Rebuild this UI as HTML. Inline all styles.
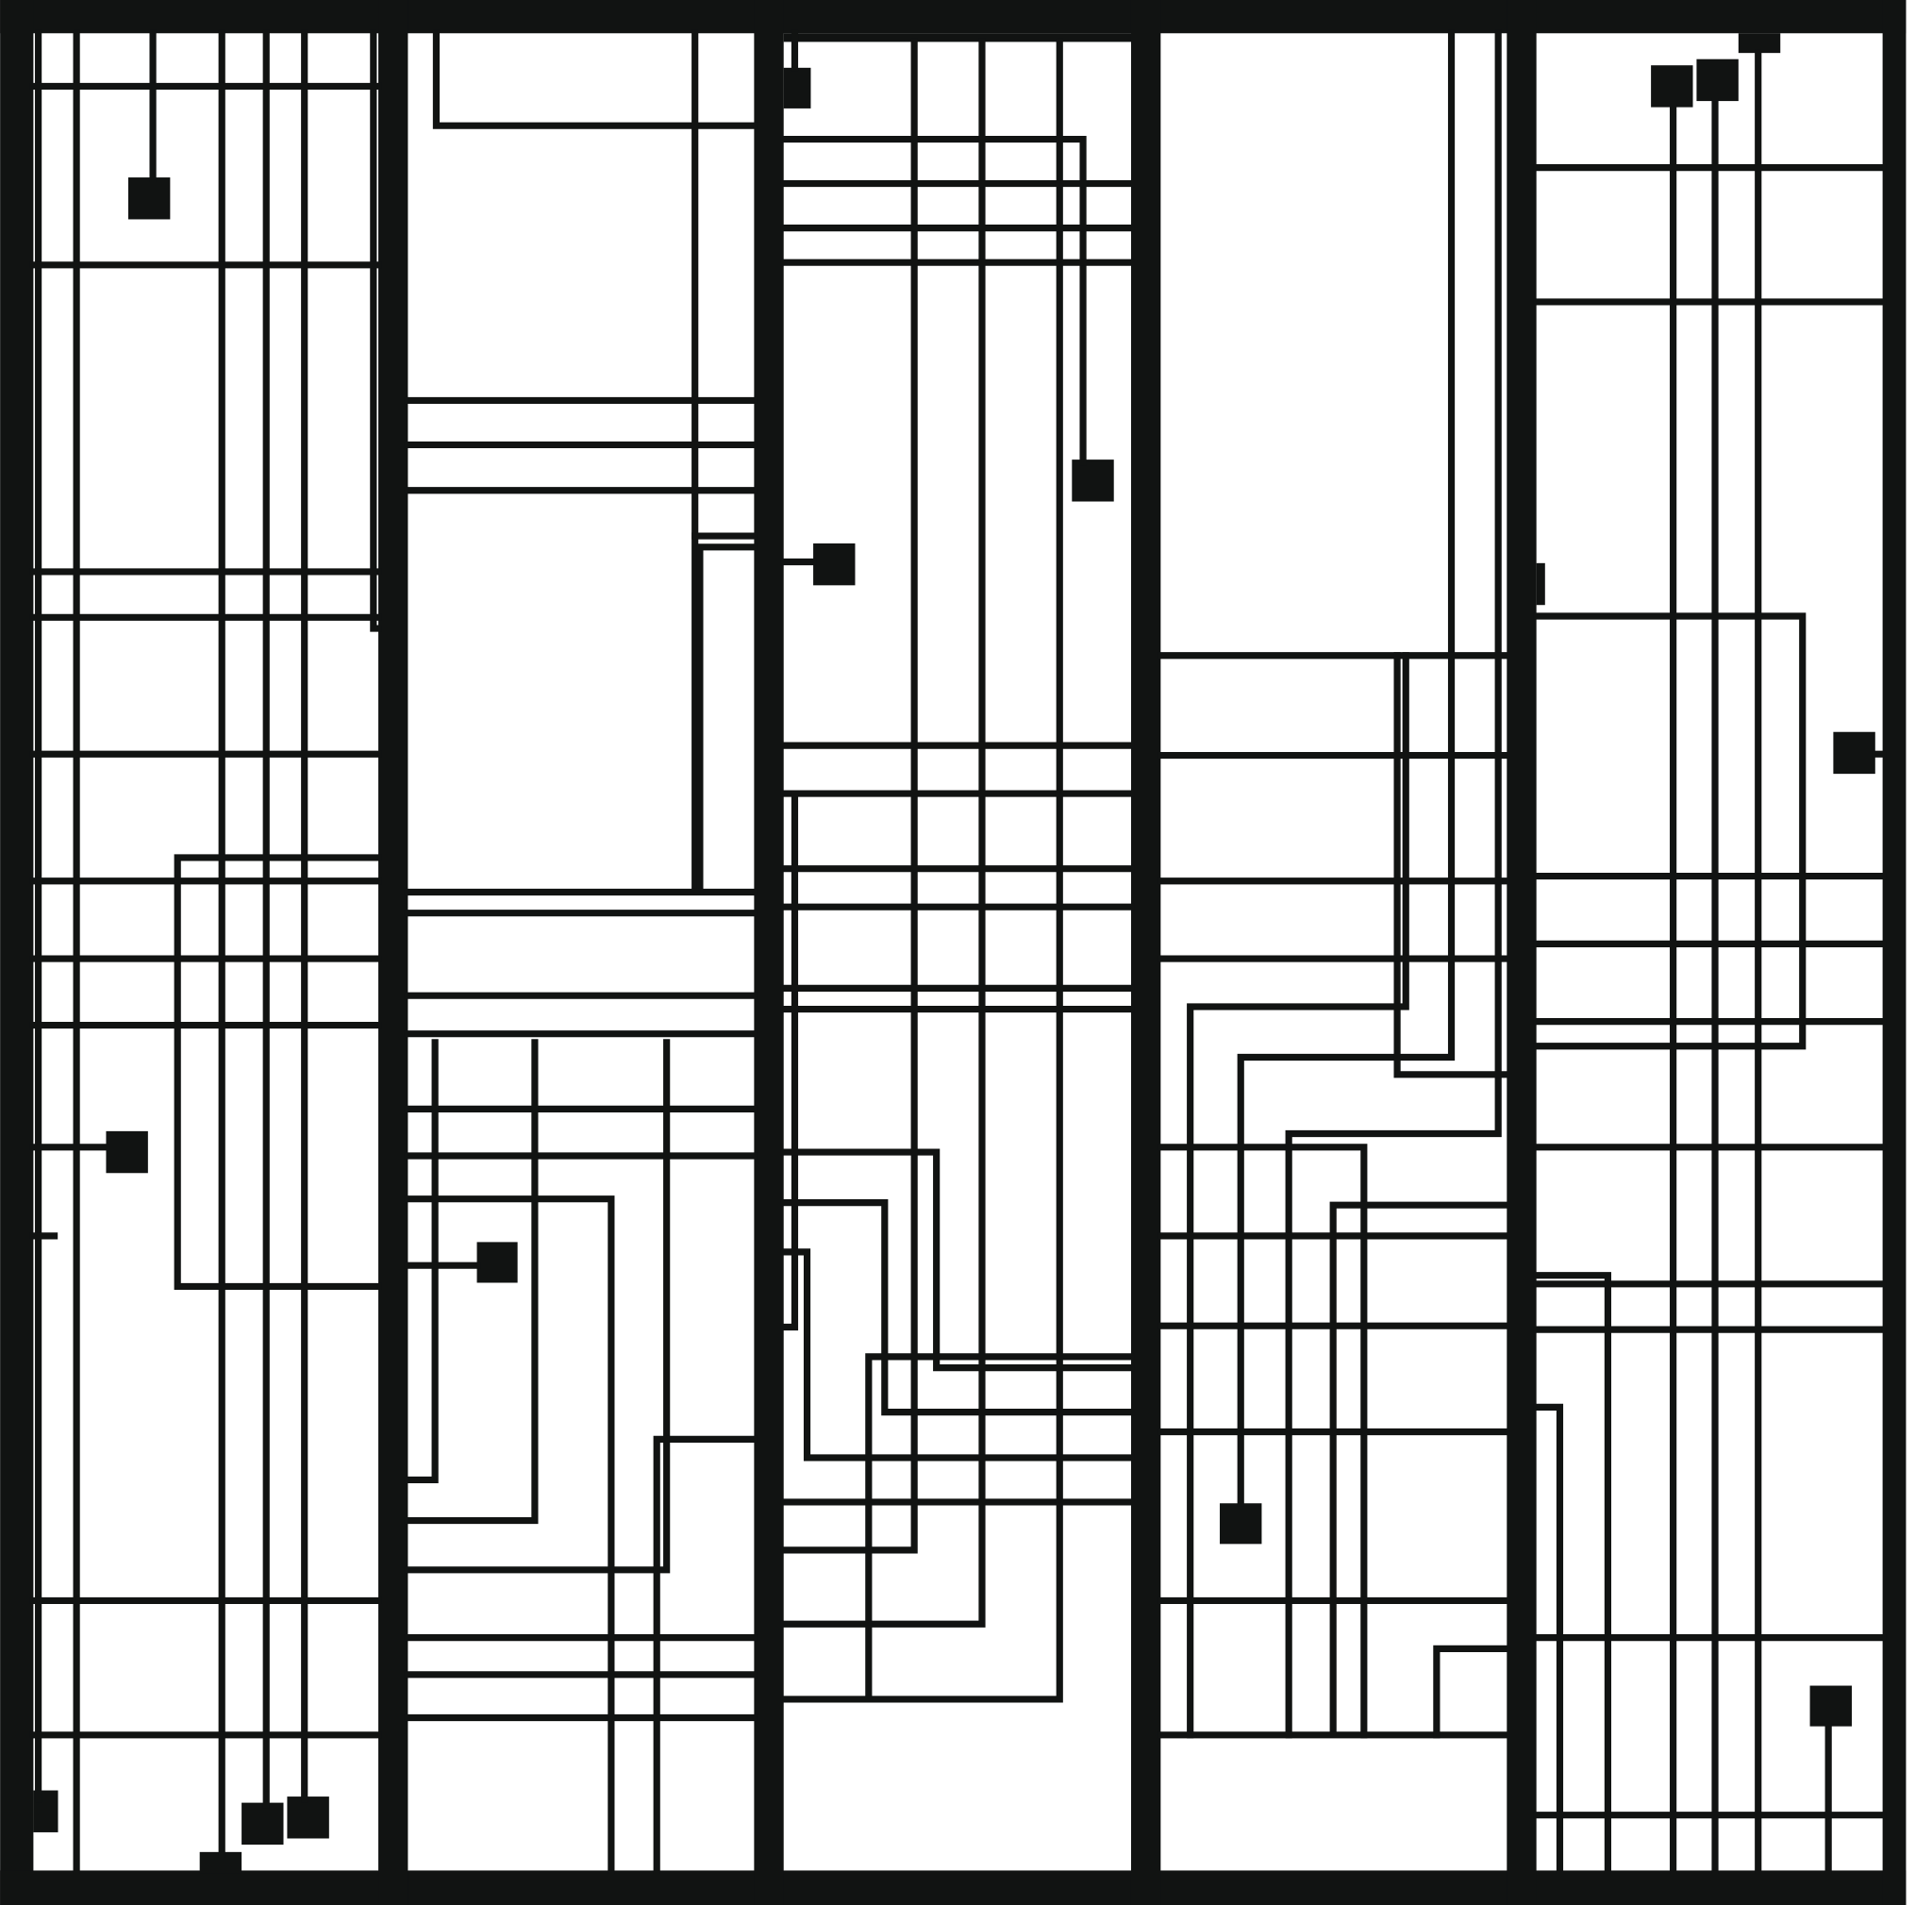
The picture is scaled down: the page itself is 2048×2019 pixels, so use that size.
<!DOCTYPE html>
<html><head><meta charset="utf-8"><style>html,body{margin:0;padding:0;background:#fff}svg{display:block}</style></head>
<body>
<svg width="2048" height="2019" viewBox="0 0 1568 1546" xmlns="http://www.w3.org/2000/svg">
<rect width="1568" height="1546" fill="#fff"/>
<g fill="#111312">
<!-- frame -->
<rect x="0" y="0" width="1547" height="27"/>
<rect x="0" y="0" width="27" height="1546"/>
<rect x="0" y="1518" width="1547" height="28"/>
<rect x="1528" y="0" width="19" height="1546"/>
<rect x="636" y="27" width="282" height="7"/>
<!-- separators -->
<rect x="307" y="0" width="24" height="1546"/>
<rect x="612" y="0" width="24" height="1546"/>
<rect x="918" y="0" width="24" height="1546"/>
<rect x="1223" y="0" width="24" height="1546"/>
<!-- boxes -->
<rect x="104" y="144" width="34" height="34"/>
<rect x="86" y="918" width="34" height="34"/>
<rect x="27" y="1453" width="20" height="34"/>
<rect x="162" y="1503" width="34" height="17"/>
<rect x="196" y="1463" width="34" height="34"/>
<rect x="233" y="1458" width="34" height="34"/>
<rect x="387" y="1008" width="33" height="33"/>
<rect x="636" y="55" width="22" height="33"/>
<rect x="660" y="441" width="34" height="34"/>
<rect x="870" y="373" width="34" height="34"/>
<rect x="990" y="1220" width="34" height="33"/>
<rect x="1247" y="457" width="7" height="34"/>
<rect x="1340" y="53" width="34" height="34"/>
<rect x="1377" y="48" width="34" height="34"/>
<rect x="1411" y="27" width="34" height="16"/>
<rect x="1488" y="594" width="34" height="34"/>
<rect x="1469" y="1368" width="34" height="33"/>
</g>
<g stroke="#111312" stroke-width="5.5" fill="none" stroke-linecap="square" stroke-linejoin="miter">
<!-- panel 1 -->
<line x1="31" y1="27" x2="31" y2="1460"/>
<line x1="62" y1="27" x2="62" y2="1518"/>
<line x1="124" y1="27" x2="124" y2="145"/>
<line x1="180" y1="27" x2="180" y2="1505"/>
<line x1="216" y1="27" x2="216" y2="1465"/>
<line x1="247" y1="27" x2="247" y2="1460"/>
<polyline points="303,27 303,510 307,510"/>
<line x1="27" y1="70" x2="307" y2="70"/>
<line x1="27" y1="215" x2="307" y2="215"/>
<line x1="27" y1="464" x2="307" y2="464"/>
<line x1="27" y1="501" x2="307" y2="501"/>
<line x1="27" y1="612" x2="307" y2="612"/>
<line x1="27" y1="715" x2="307" y2="715"/>
<line x1="27" y1="778" x2="307" y2="778"/>
<line x1="27" y1="832" x2="307" y2="832"/>
<line x1="27" y1="1299" x2="307" y2="1299"/>
<line x1="27" y1="1408" x2="307" y2="1408"/>
<line x1="27" y1="931" x2="86" y2="931"/>
<line x1="27" y1="1003" x2="44" y2="1003"/>
<polyline points="307,696 144,696 144,1044 307,1044"/>
<!-- panel 2 -->
<polyline points="354,27 354,102 612,102"/>
<polyline points="564,27 564,722"/>
<line x1="331" y1="325" x2="612" y2="325"/>
<line x1="331" y1="361" x2="612" y2="361"/>
<line x1="331" y1="398" x2="612" y2="398"/>
<line x1="564" y1="435" x2="612" y2="435"/>
<polyline points="612,444 568,444 568,722"/>
<line x1="331" y1="724" x2="612" y2="724"/>
<line x1="331" y1="741" x2="612" y2="741"/>
<line x1="331" y1="808" x2="612" y2="808"/>
<line x1="331" y1="839" x2="612" y2="839"/>
<line x1="331" y1="900" x2="612" y2="900"/>
<line x1="331" y1="938" x2="612" y2="938"/>
<line x1="331" y1="1329" x2="612" y2="1329"/>
<line x1="331" y1="1359" x2="612" y2="1359"/>
<line x1="331" y1="1394" x2="612" y2="1394"/>
<polyline points="353,846 353,1201 331,1201"/>
<polyline points="434,846 434,1234 331,1234"/>
<polyline points="541,846 541,1274 331,1274"/>
<polyline points="331,973 496,973 496,1518"/>
<polyline points="612,1168 533,1168 533,1518"/>
<line x1="331" y1="1027" x2="387" y2="1027"/>
<!-- panel 3 -->
<line x1="645" y1="27" x2="645" y2="55"/>
<polyline points="636,113 879,113 879,375"/>
<polyline points="742,34 742,1258 636,1258"/>
<polyline points="797,34 797,1318 636,1318"/>
<polyline points="860,34 860,1379 636,1379"/>
<line x1="636" y1="149" x2="918" y2="149"/>
<line x1="636" y1="185" x2="918" y2="185"/>
<line x1="636" y1="213" x2="918" y2="213"/>
<line x1="636" y1="456" x2="660" y2="456"/>
<line x1="636" y1="605" x2="918" y2="605"/>
<line x1="636" y1="644" x2="918" y2="644"/>
<line x1="636" y1="705" x2="918" y2="705"/>
<line x1="636" y1="736" x2="918" y2="736"/>
<line x1="636" y1="802" x2="918" y2="802"/>
<line x1="636" y1="819" x2="918" y2="819"/>
<line x1="636" y1="1219" x2="918" y2="1219"/>
<polyline points="645,644 645,1077 636,1077"/>
<polyline points="636,935 760,935 760,1110 918,1110"/>
<polyline points="636,976 718,976 718,1146 918,1146"/>
<polyline points="636,1016 655,1016 655,1183 918,1183"/>
<polyline points="918,1101 705,1101 705,1379"/>
<!-- panel 4 -->
<polyline points="1178,27 1178,858 1007,858 1007,1220"/>
<polyline points="1216,27 1216,920 1046,920 1046,1408"/>
<line x1="942" y1="532" x2="1223" y2="532"/>
<polyline points="1134,532 1134,872 1223,872"/>
<polyline points="1141,532 1141,817 966,817 966,1408"/>
<line x1="942" y1="613" x2="1223" y2="613"/>
<line x1="942" y1="715" x2="1223" y2="715"/>
<line x1="942" y1="778" x2="1223" y2="778"/>
<line x1="942" y1="931" x2="1046" y2="931"/>
<polyline points="1046,931 1107,931 1107,1408"/>
<polyline points="1223,978 1082,978 1082,1403"/>
<line x1="942" y1="1003" x2="1223" y2="1003"/>
<line x1="942" y1="1076" x2="1223" y2="1076"/>
<line x1="942" y1="1162" x2="1223" y2="1162"/>
<line x1="942" y1="1299" x2="1223" y2="1299"/>
<line x1="942" y1="1408" x2="1223" y2="1408"/>
<polyline points="1223,1338 1166,1338 1166,1408"/>
<!-- panel 5 -->
<line x1="1358" y1="87" x2="1358" y2="1518"/>
<line x1="1392" y1="82" x2="1392" y2="1518"/>
<line x1="1427" y1="43" x2="1427" y2="1518"/>
<line x1="1247" y1="136" x2="1528" y2="136"/>
<line x1="1247" y1="245" x2="1528" y2="245"/>
<polyline points="1247,500 1463,500 1463,849 1247,849"/>
<line x1="1522" y1="612" x2="1528" y2="612"/>
<line x1="1247" y1="711" x2="1528" y2="711"/>
<line x1="1247" y1="766" x2="1528" y2="766"/>
<line x1="1247" y1="829" x2="1528" y2="829"/>
<line x1="1247" y1="931" x2="1528" y2="931"/>
<line x1="1247" y1="1042" x2="1528" y2="1042"/>
<line x1="1247" y1="1079" x2="1528" y2="1079"/>
<line x1="1247" y1="1329" x2="1528" y2="1329"/>
<line x1="1247" y1="1473" x2="1528" y2="1473"/>
<polyline points="1247,1035 1305,1035 1305,1518"/>
<polyline points="1247,1142 1266,1142 1266,1518"/>
<line x1="1484" y1="1401" x2="1484" y2="1518"/>
</g>
</svg>
</body></html>
